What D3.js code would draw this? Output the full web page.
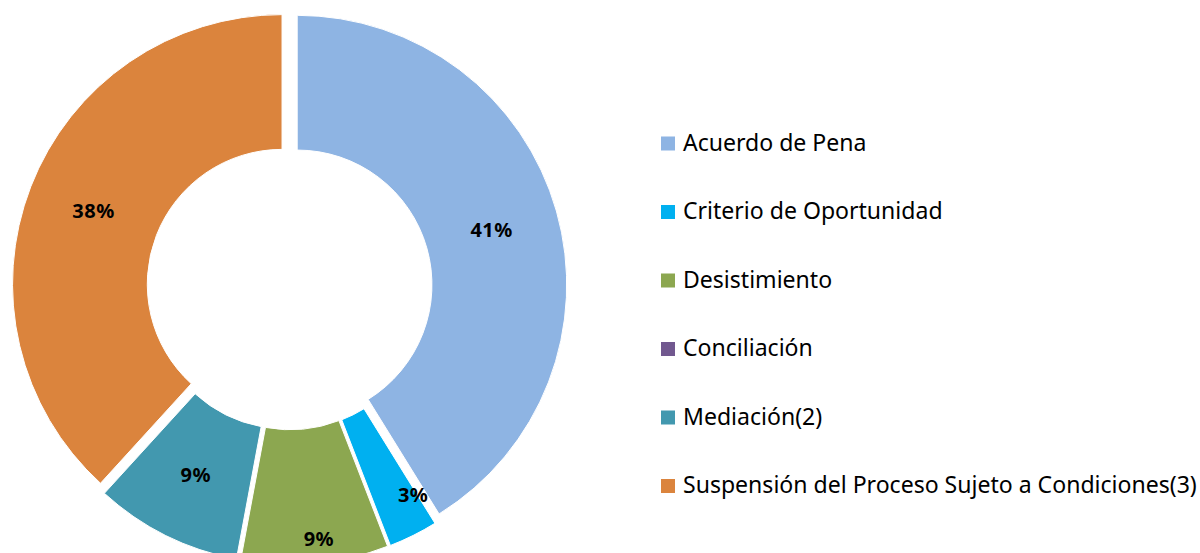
<!DOCTYPE html>
<html>
<head>
<meta charset="utf-8">
<script src="https://cdn.jsdelivr.net/npm/d3@7"></script>
<style>
  body { margin: 0; background: #fff; }
  svg { display: block; }
</style>
</head>
<body>
<svg id="drawing_region"></svg>
<script>
// data
const categories = ['Acuerdo de Pena', 'Criterio de Oportunidad', 'Desistimiento',
                    'Conciliación', 'Mediación(2)', 'Suspensión del Proceso Sujeto a Condiciones(3)'];
const counts = [14, 1, 3, 0, 3, 13];
const colors = ['#8EB4E3', '#00B0F0', '#8CA750', '#71588F', '#4298AF', '#DB843D'];

// small slices had their labels dragged outward in the original
const label_shift = [[0, 0], [30, 20], [10, 43], [0, 0], [0, 0], [0, 0]];

const config = {
    width: 1200,
    height: 553,
    cx: 289.5,
    cy: 287,
    outer: 269.5,
    hole: 0.5,
    explode: 8,
    legend_x: 661,
    legend_y: 150.5,
    legend_step: 68.5
};

const svg = d3.select('#drawing_region')
    .attr('width', config.width)
    .attr('height', config.height);

const data = categories.map((c, i) => ({ label: c, value: counts[i], color: colors[i], shift: label_shift[i] }));
const total = d3.sum(data, d => d.value);
const pct = d3.format('.0%');

const pie = d3.pie()
    .value(d => d.value)
    .sort(null);

const arc = d3.arc()
    .innerRadius(config.outer * config.hole)
    .outerRadius(config.outer);

const label_arc = d3.arc()
    .innerRadius((config.outer * (1 + config.hole)) / 2)
    .outerRadius((config.outer * (1 + config.hole)) / 2);

const chart = svg.append('g')
    .attr('transform', `translate(${config.cx}, ${config.cy})`);

const slices = pie(data);

function offset(d) {
    const a = (d.startAngle + d.endAngle) / 2;
    return [config.explode * Math.sin(a), -config.explode * Math.cos(a)];
}

chart.selectAll('path')
    .data(slices.filter(d => d.value > 0))
    .join('path')
    .attr('transform', d => `translate(${offset(d)})`)
    .attr('d', arc)
    .attr('fill', d => d.data.color)
    .attr('stroke', '#fff')
    .attr('stroke-width', 1);

chart.selectAll('text.pct')
    .data(slices.filter(d => d.value > 0))
    .join('text')
    .attr('class', 'pct')
    .attr('x', d => label_arc.centroid(d)[0] + offset(d)[0] + d.data.shift[0])
    .attr('y', d => label_arc.centroid(d)[1] + offset(d)[1] + d.data.shift[1])
    .attr('dy', '0.36em')
    .attr('text-anchor', 'middle')
    .style('font-family', '"Noto Sans", sans-serif')
    .style('font-weight', 'bold')
    .style('font-size', '20px')
    .style('letter-spacing', '0.5px')
    .attr('fill', '#000')
    .text(d => pct(d.value / total));

// legend
const legend = svg.append('g')
    .attr('transform', `translate(${config.legend_x}, ${config.legend_y})`);

const rows = legend.selectAll('g')
    .data(data)
    .join('g')
    .attr('transform', (d, i) => `translate(0, ${i * config.legend_step})`);

rows.append('rect')
    .attr('x', 0)
    .attr('y', -14)
    .attr('width', 14)
    .attr('height', 14)
    .attr('fill', d => d.color);

const texts = rows.append('text')
    .attr('x', 22)
    .attr('y', 0)
    .style('font-family', '"Noto Sans", sans-serif')
    .style('font-size', '20px')
    .attr('fill', '#000')
    .text(d => d.label);

// fit the longest label to the width it has in the original
const longest = d3.max(texts.nodes(), n => n.getComputedTextLength());
const fs = 20 * 514 / longest;
texts.style('font-size', fs + 'px');
</script>
</body>
</html>
